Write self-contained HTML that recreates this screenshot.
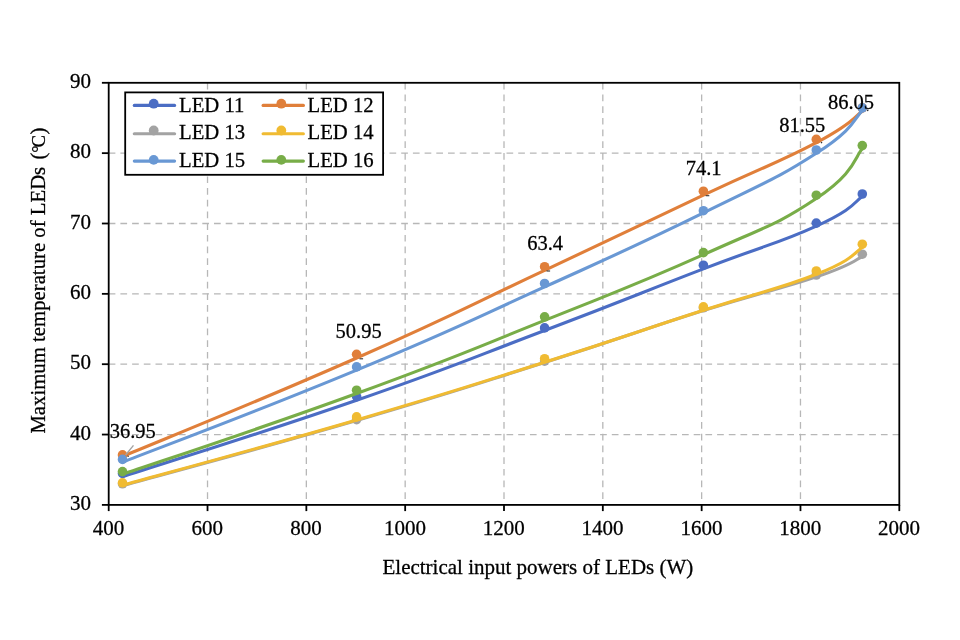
<!DOCTYPE html>
<html lang="en"><head><meta charset="utf-8"><title>Maximum temperature of LEDs</title>
<style>html,body{margin:0;padding:0;background:#fff;width:960px;height:640px;overflow:hidden}svg{display:block;will-change:transform}text{font-family:"Liberation Serif","DejaVu Serif",serif;fill:#000;stroke:#000;stroke-width:.28px}</style>
</head><body>
<svg width="960" height="640" viewBox="0 0 960 640">
<rect width="960" height="640" fill="#fff"/>
<g stroke="#b7b7b7" stroke-width="1.3" stroke-dasharray="6.7 5" fill="none">
<line x1="207.52" y1="82.80" x2="207.52" y2="504.90"/>
<line x1="306.35" y1="82.80" x2="306.35" y2="504.90"/>
<line x1="405.17" y1="82.80" x2="405.17" y2="504.90"/>
<line x1="504.00" y1="82.80" x2="504.00" y2="504.90"/>
<line x1="602.82" y1="82.80" x2="602.82" y2="504.90"/>
<line x1="701.65" y1="82.80" x2="701.65" y2="504.90"/>
<line x1="800.47" y1="82.80" x2="800.47" y2="504.90"/>
<line x1="108.70" y1="434.55" x2="899.30" y2="434.55"/>
<line x1="108.70" y1="364.20" x2="899.30" y2="364.20"/>
<line x1="108.70" y1="293.85" x2="899.30" y2="293.85"/>
<line x1="108.70" y1="223.50" x2="899.30" y2="223.50"/>
<line x1="108.70" y1="153.15" x2="899.30" y2="153.15"/>
</g>
<g><path d="M122.50 476.60 C161.52 463.88 253.19 436.09 356.60 400.30 C460.01 364.51 459.63 362.69 544.60 330.50 C629.57 298.31 636.83 294.48 703.40 268.90 C769.97 243.32 777.37 243.84 816.30 226.10 C855.23 208.36 854.63 201.43 862.30 196.50" fill="none" stroke="#4b6dc4" stroke-width="3.1" stroke-linecap="round" stroke-linejoin="round"/>
<g fill="#4b6dc4"><circle cx="122.5" cy="473.4" r="4.8"/><circle cx="356.6" cy="396.6" r="4.8"/><circle cx="544.6" cy="327.9" r="4.8"/><circle cx="703.4" cy="265.2" r="4.8"/><circle cx="816.3" cy="223.1" r="4.8"/><circle cx="862.3" cy="194.0" r="4.8"/></g></g>
<g><path d="M122.50 456.50 C161.52 440.08 253.19 403.59 356.60 358.00 C460.01 312.41 459.63 310.29 544.60 270.40 C629.57 230.51 636.83 226.49 703.40 195.20 C769.97 163.91 777.37 163.30 816.30 142.70 C855.23 122.10 854.63 116.37 862.30 111.10" fill="none" stroke="#e07f3a" stroke-width="3.1" stroke-linecap="round" stroke-linejoin="round"/>
<g fill="#e07f3a"><circle cx="122.5" cy="454.9" r="4.8"/><circle cx="356.6" cy="354.3" r="4.8"/><circle cx="544.6" cy="266.7" r="4.8"/><circle cx="703.4" cy="191.2" r="4.8"/><circle cx="816.3" cy="139.4" r="4.8"/><circle cx="862.3" cy="107.9" r="4.8"/></g></g>
<g><path d="M122.50 485.60 C161.52 474.75 253.19 450.66 356.60 420.50 C460.01 390.34 459.63 389.43 544.60 362.50 C629.57 335.57 636.83 331.57 703.40 310.60 C769.97 289.63 777.37 290.15 816.30 276.90 C855.23 263.65 854.63 259.90 862.30 256.50" fill="none" stroke="#a3a3a3" stroke-width="3.1" stroke-linecap="round" stroke-linejoin="round"/>
<g fill="#a3a3a3"><circle cx="122.5" cy="483.8" r="4.8"/><circle cx="356.6" cy="419.6" r="4.8"/><circle cx="544.6" cy="361.1" r="4.8"/><circle cx="703.4" cy="307.8" r="4.8"/><circle cx="816.3" cy="275.0" r="4.8"/><circle cx="862.3" cy="254.2" r="4.8"/></g></g>
<g><path d="M122.50 485.25 C161.52 474.36 253.19 450.05 356.60 419.90 C460.01 389.75 459.63 389.06 544.60 362.20 C629.57 335.34 636.83 331.79 703.40 310.25 C769.97 288.71 777.37 289.67 816.30 274.30 C855.23 258.93 854.63 251.97 862.30 247.50" fill="none" stroke="#f0bb32" stroke-width="3.1" stroke-linecap="round" stroke-linejoin="round"/>
<g fill="#f0bb32"><circle cx="122.5" cy="482.8" r="4.8"/><circle cx="356.6" cy="416.9" r="4.8"/><circle cx="544.6" cy="358.7" r="4.8"/><circle cx="703.4" cy="306.9" r="4.8"/><circle cx="816.3" cy="271.0" r="4.8"/><circle cx="862.3" cy="244.2" r="4.8"/></g></g>
<g><path d="M122.50 462.20 C161.52 446.85 253.19 413.05 356.60 370.10 C460.01 327.15 459.63 325.41 544.60 286.90 C629.57 248.39 636.83 245.63 703.40 212.90 C769.97 180.17 777.37 178.34 816.30 153.30 C855.23 128.26 854.63 117.80 862.30 110.70" fill="none" stroke="#6998d4" stroke-width="3.1" stroke-linecap="round" stroke-linejoin="round"/>
<g fill="#6998d4"><circle cx="122.5" cy="459.4" r="4.8"/><circle cx="356.6" cy="366.9" r="4.8"/><circle cx="544.6" cy="283.5" r="4.8"/><circle cx="703.4" cy="210.7" r="4.8"/><circle cx="816.3" cy="150.0" r="4.8"/><circle cx="862.3" cy="107.9" r="4.8"/></g></g>
<g><path d="M122.50 474.35 C161.52 460.88 253.19 431.22 356.60 393.50 C460.01 355.78 459.63 354.41 544.60 320.40 C629.57 286.39 636.83 284.57 703.40 254.70 C769.97 224.83 777.37 224.45 816.30 198.50 C855.23 172.55 854.63 157.08 862.30 148.80" fill="none" stroke="#78ad48" stroke-width="3.1" stroke-linecap="round" stroke-linejoin="round"/>
<g fill="#78ad48"><circle cx="122.5" cy="471.6" r="4.8"/><circle cx="356.6" cy="390.2" r="4.8"/><circle cx="544.6" cy="316.8" r="4.8"/><circle cx="703.4" cy="252.6" r="4.8"/><circle cx="816.3" cy="195.2" r="4.8"/><circle cx="862.3" cy="145.6" r="4.8"/></g></g>
<g stroke="#000" stroke-width="1.8" fill="none">
<rect x="108.70" y="82.80" width="790.60" height="422.10"/>
<line x1="108.70" y1="504.90" x2="108.70" y2="511.10"/>
<line x1="207.52" y1="504.90" x2="207.52" y2="511.10"/>
<line x1="306.35" y1="504.90" x2="306.35" y2="511.10"/>
<line x1="405.17" y1="504.90" x2="405.17" y2="511.10"/>
<line x1="504.00" y1="504.90" x2="504.00" y2="511.10"/>
<line x1="602.82" y1="504.90" x2="602.82" y2="511.10"/>
<line x1="701.65" y1="504.90" x2="701.65" y2="511.10"/>
<line x1="800.47" y1="504.90" x2="800.47" y2="511.10"/>
<line x1="899.30" y1="504.90" x2="899.30" y2="511.10"/>
<line x1="101.90" y1="504.90" x2="108.70" y2="504.90"/>
<line x1="101.90" y1="434.55" x2="108.70" y2="434.55"/>
<line x1="101.90" y1="364.20" x2="108.70" y2="364.20"/>
<line x1="101.90" y1="293.85" x2="108.70" y2="293.85"/>
<line x1="101.90" y1="223.50" x2="108.70" y2="223.50"/>
<line x1="101.90" y1="153.15" x2="108.70" y2="153.15"/>
<line x1="101.90" y1="82.80" x2="108.70" y2="82.80"/>
</g>
<g font-size="21" text-anchor="middle">
<text x="108.4" y="535.4">400</text>
<text x="207.2" y="535.4">600</text>
<text x="306.0" y="535.4">800</text>
<text x="404.9" y="535.4">1000</text>
<text x="503.7" y="535.4">1200</text>
<text x="602.5" y="535.4">1400</text>
<text x="701.4" y="535.4">1600</text>
<text x="800.2" y="535.4">1800</text>
<text x="899.0" y="535.4">2000</text>
</g>
<g font-size="21" text-anchor="end">
<text x="90.9" y="510.1">30</text>
<text x="90.9" y="439.7">40</text>
<text x="90.9" y="369.4">50</text>
<text x="90.9" y="299.1">60</text>
<text x="90.9" y="228.7">70</text>
<text x="90.9" y="158.3">80</text>
<text x="90.9" y="88.0">90</text>
</g>
<text x="537.9" y="574.3" font-size="21" text-anchor="middle">Electrical input powers of LEDs (W)</text>
<text transform="translate(45.4 433.6) rotate(-90)" font-size="20.75">Maximum temperature of LEDs <tspan dx="2">(</tspan><tspan font-size="18.3" dx="0">°</tspan><tspan font-size="18.3" dx="-1.95">C</tspan><tspan dx="0.55">)</tspan></text>
<g font-size="20.5" text-anchor="middle">
<text x="132.8" y="437.5">36.95</text>
<text x="358.6" y="338.2">50.95</text>
<text x="545.1" y="250.0">63.4</text>
<text x="703.6" y="175.1">74.1</text>
<text x="802.2" y="132.1">81.55</text>
<text x="851.0" y="108.5">86.05</text>
</g>
<line x1="133.5" y1="445.4" x2="125.6" y2="455" stroke="#a3a3a3" stroke-width="1.4"/>
<g stroke="#333" stroke-width="1.1">
<line x1="359.5" y1="358.8" x2="363.1" y2="358.8"/>
<line x1="546.5" y1="271.0" x2="550.1" y2="271.0"/>
<line x1="705.7" y1="195.7" x2="709.3" y2="195.7"/>
</g>
<g fill="#333"><circle cx="128.1" cy="456.2" r="0.8"/><circle cx="821.5" cy="142.6" r="0.8"/><circle cx="867.7" cy="110.4" r="0.8"/></g>
<rect x="125.2" y="92.4" width="257.9" height="82.4" fill="#fff" stroke="#000" stroke-width="1.8"/>
<g font-size="20.7">
<line x1="134.3" y1="105.4" x2="174.6" y2="105.4" stroke="#4b6dc4" stroke-width="3.1" stroke-linecap="round"/>
<circle cx="153.7" cy="103.7" r="4.9" fill="#4b6dc4"/>
<text x="179.0" y="111.7">LED 11</text>
<line x1="263.1" y1="105.4" x2="303.4" y2="105.4" stroke="#e07f3a" stroke-width="3.1" stroke-linecap="round"/>
<circle cx="281.3" cy="103.7" r="4.9" fill="#e07f3a"/>
<text x="307.5" y="111.7">LED 12</text>
<line x1="134.3" y1="133.8" x2="174.6" y2="133.8" stroke="#a3a3a3" stroke-width="3.1" stroke-linecap="round"/>
<circle cx="153.7" cy="130.5" r="4.9" fill="#a3a3a3"/>
<text x="179.0" y="138.8">LED 13</text>
<line x1="263.1" y1="133.8" x2="303.4" y2="133.8" stroke="#f0bb32" stroke-width="3.1" stroke-linecap="round"/>
<circle cx="281.3" cy="130.5" r="4.9" fill="#f0bb32"/>
<text x="307.5" y="138.8">LED 14</text>
<line x1="134.3" y1="161.1" x2="174.6" y2="161.1" stroke="#6998d4" stroke-width="3.1" stroke-linecap="round"/>
<circle cx="153.7" cy="159.9" r="4.9" fill="#6998d4"/>
<text x="179.0" y="166.9">LED 15</text>
<line x1="263.1" y1="161.1" x2="303.4" y2="161.1" stroke="#78ad48" stroke-width="3.1" stroke-linecap="round"/>
<circle cx="281.3" cy="159.9" r="4.9" fill="#78ad48"/>
<text x="307.5" y="166.9">LED 16</text>
</g>
</svg>
</body></html>
